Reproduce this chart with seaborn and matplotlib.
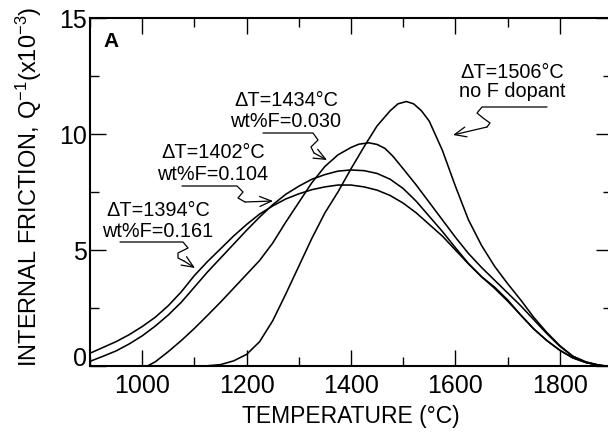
import matplotlib
matplotlib.use("Agg")
import matplotlib.pyplot as plt
import numpy as np
import pandas as pd
import seaborn as sns
from matplotlib.ticker import MultipleLocator
from matplotlib.lines import Line2D

# ---------------- data ----------------
temp_a = [900, 925, 950, 975, 1000, 1025, 1050, 1075, 1100, 1125, 1150, 1175, 1200,
          1225, 1250, 1275, 1300, 1325, 1350, 1375, 1400, 1425, 1450, 1475, 1500,
          1525, 1550, 1575, 1600, 1625, 1650, 1675, 1700, 1725, 1750, 1775, 1800,
          1825, 1850, 1875, 1885]
q_a = [0.55, 0.8, 1.05, 1.35, 1.7, 2.1, 2.6, 3.2, 3.9, 4.5, 5.05, 5.6, 6.1,
       6.55, 6.9, 7.2, 7.42, 7.6, 7.72, 7.8, 7.8, 7.72, 7.58, 7.35, 7.02,
       6.6, 6.1, 5.6, 5.0, 4.4, 3.85, 3.4, 2.85, 2.2, 1.6, 1.1, 0.68,
       0.35, 0.15, 0.03, 0.0]

temp_b = temp_a
q_b = [0.2, 0.42, 0.65, 0.95, 1.3, 1.72, 2.2, 2.75, 3.4, 4.05, 4.65, 5.25, 5.85,
       6.42, 6.95, 7.4, 7.75, 8.05, 8.25, 8.4, 8.45, 8.42, 8.3, 8.05, 7.65,
       7.1, 6.45, 5.8, 5.1, 4.42, 3.85, 3.35, 2.8, 2.2, 1.6, 1.1, 0.68,
       0.35, 0.15, 0.03, 0.0]

temp_c = [1010, 1025, 1050, 1075, 1100, 1125, 1150, 1175, 1200, 1225, 1250, 1275,
          1300, 1325, 1350, 1375, 1400, 1415, 1434, 1450, 1465, 1480, 1500, 1525,
          1550, 1575, 1600, 1625, 1650, 1675, 1700, 1725, 1750, 1775, 1800, 1825,
          1850, 1875, 1890]
q_c = [0.0, 0.18, 0.62, 1.1, 1.62, 2.18, 2.75, 3.35, 3.95, 4.55, 5.3, 6.2,
       7.05, 7.9, 8.6, 9.1, 9.42, 9.56, 9.62, 9.55, 9.38, 9.05, 8.5, 7.8,
       7.05, 6.3, 5.55, 4.85, 4.25, 3.7, 3.15, 2.6, 2.0, 1.4, 0.85, 0.42,
       0.18, 0.04, 0.0]

temp_d = [1120, 1150, 1175, 1200, 1225, 1250, 1275, 1300, 1325, 1350, 1375, 1400,
          1425, 1450, 1475, 1490, 1506, 1520, 1535, 1550, 1575, 1600, 1625, 1650,
          1675, 1700, 1725, 1750, 1775, 1800, 1825, 1850, 1875, 1890]
q_d = [0.0, 0.06, 0.22, 0.5, 1.05, 1.95, 3.1, 4.3, 5.5, 6.6, 7.5, 8.5,
       9.45, 10.35, 11.0, 11.3, 11.4, 11.3, 11.0, 10.55, 9.3, 7.75, 6.3, 5.2,
       4.3, 3.55, 2.85, 2.1, 1.45, 0.88, 0.42, 0.16, 0.03, 0.0]

curve_names = ["dT1394", "dT1402", "dT1434", "dT1506"]
x_ticks = [1000, 1200, 1400, 1600, 1800]
y_ticks = [0, 5, 10, 15]

df = pd.concat([
    pd.DataFrame({"T": t, "Q": q, "curve": n})
    for n, t, q in zip(curve_names, [temp_a, temp_b, temp_c, temp_d], [q_a, q_b, q_c, q_d])
], ignore_index=True)

# ---------------- figure ----------------
sns.set_theme(style="ticks")
plt.rcParams["font.family"] = ["Liberation Sans", "DejaVu Sans"]
plt.rcParams["mathtext.fontset"] = "custom"
plt.rcParams["mathtext.rm"] = "Liberation Sans"
plt.rcParams["mathtext.it"] = "Liberation Sans"

W, H = 608, 433
fig = plt.figure(figsize=(W / 100, H / 100), dpi=100)
fig.patch.set_facecolor("white")
ax = fig.add_axes([90 / W, 67 / H, 522 / W, 348 / H])
ax.set_facecolor("white")

sns.lineplot(data=df, x="T", y="Q", hue="curve", palette=["black"] * 4,
             sort=False, estimator=None, legend=False, lw=1.15, ax=ax)

ax.set_xlim(900, 1900)
ax.set_ylim(0, 15)
ax.set_xticks(x_ticks)
ax.set_yticks(y_ticks)
ax.xaxis.set_minor_locator(MultipleLocator(100))
ax.yaxis.set_minor_locator(MultipleLocator(2.5))
ax.set_xlabel("")
ax.set_ylabel("")

for s in ax.spines.values():
    s.set_linewidth(1.5)
    s.set_color("black")
ax.tick_params(which="both", direction="in", top=True, right=True, color="black",
               width=1.0)
ax.tick_params(which="major", length=11.5)
ax.tick_params(which="minor", length=6.8)
ax.tick_params(axis="x", which="major", labelsize=18, pad=5.5, labelcolor="black")
ax.tick_params(axis="y", which="major", labelsize=18, pad=2.5, labelcolor="black")
ax.get_yticklabels()[0].set_va("baseline")

# axis titles
fig.text(351 / W, 1 - 423 / H, "TEMPERATURE (°C)", ha="center", va="baseline",
         fontsize=16.5, color="black")
fig.text(37 / W, 1 - 367 / H, r"INTERNAL FRICTION, Q$^{-1}$(x10$^{-3}$)",
         rotation=90, rotation_mode="anchor", ha="left", va="baseline",
         fontsize=17, color="black")
fig.text(103 / W, 1 - 47 / H, "A", ha="left", va="baseline", fontsize=15,
         fontweight="bold", color="black")

# curve labels (pixel positions: centre x, last-line baseline y, line spacing)
labels = [
    (512, 97, 0.98, "ΔT=1506°C\nno F dopant"),
    (286, 127, 1.12, "ΔT=1434°C\nwt%F=0.030"),
    (213, 180, 1.18, "ΔT=1402°C\nwt%F=0.104"),
    (158, 237, 1.12, "ΔT=1394°C\nwt%F=0.161"),
]
for x, y, ls, s in labels:
    fig.text(x / W, 1 - y / H, s, ha="center", va="baseline", multialignment="center",
             linespacing=ls, fontsize=14.3, color="black")

# leader lines (pixel coordinates, last segment is the arrow)
leaders = [
    [(547, 107), (482, 107), (477, 113), (483, 118), (490, 123), (487, 127), (453, 135)],
    [(263, 133), (313, 133), (318, 140), (311, 147), (314, 153), (327, 160)],
    [(182, 186), (237, 186), (243, 192), (238, 198), (245, 202), (273, 201)],
    [(120, 242), (183, 242), (188, 248), (178, 253), (178, 258), (184, 261), (195, 268)],
]
for pts in leaders:
    xs = [p[0] / W for p in pts[:-1]]
    ys = [1 - p[1] / H for p in pts[:-1]]
    fig.add_artist(Line2D(xs, ys, transform=fig.transFigure, color="black", lw=0.9))
    (x0, y0), (x1, y1) = pts[-2], pts[-1]
    ax.annotate("", xy=(x1, H - y1), xycoords="figure pixels",
                xytext=(x0, H - y0), textcoords="figure pixels",
                arrowprops=dict(arrowstyle="->,head_length=0.7,head_width=0.3",
                                lw=0.9, color="black", shrinkA=0, shrinkB=0))

fig.savefig("out.png", dpi=100, facecolor="white")
